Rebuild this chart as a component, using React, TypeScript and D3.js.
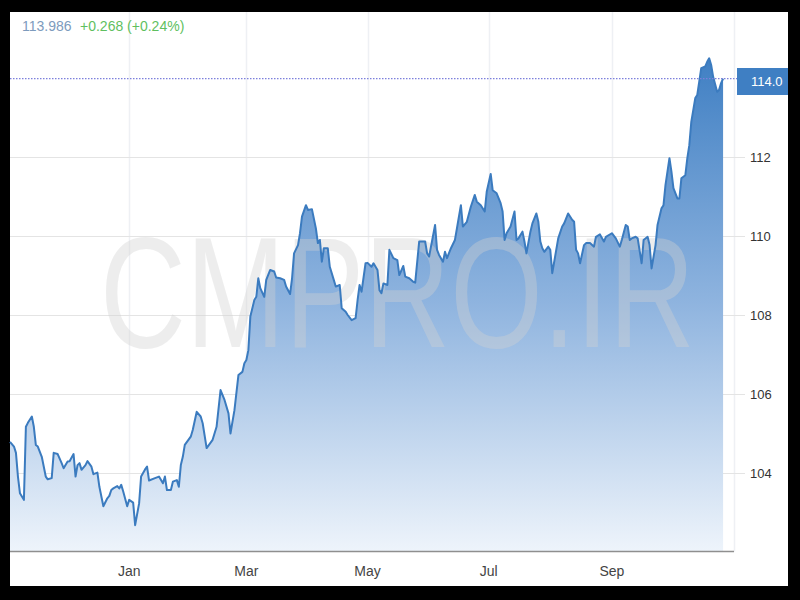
import React from 'react';
import * as d3 from 'd3';

// days counted from 1 Jan 2017 (negative = late 2016)
const days = [-60,-58,-57,-56,-55,-53,-52,-51,-49,-48,-47,-46,-44,-42,-41,-39,-38,-36,-34,-33,-31,-30,-28,-27,-26,-25,-24,-22,-21,-19,-18,-16,-15,-13,-11,-10,-9,-8,-6,-5,-4,-3,-1,0,2,3,5,6,8,9,10,13,15,17,18,19,21,22,24,25,26,27,28,31,32,34,36,37,39,42,44,46,48,50,51,53,55,57,58,59,60,61,63,64,65,66,68,69,71,73,74,76,78,79,81,82,83,85,86,87,89,90,92,94,95,96,97,98,100,101,103,104,106,107,109,110,112,114,115,116,117,119,120,122,123,125,126,127,128,130,131,133,135,136,138,139,141,143,144,146,149,150,151,154,155,156,158,159,160,162,164,165,167,168,170,172,174,175,177,179,180,182,183,185,187,188,189,190,192,194,195,196,198,199,200,202,203,205,206,207,208,209,211,212,213,216,218,219,221,223,224,225,226,227,229,230,232,234,235,237,239,240,243,245,247,248,250,251,252,253,255,256,258,259,261,262,263,265,266,268,269,270,272,273,274,276,277,278,280,281,282,283,285,286,287,288,290,291,292,293,294,296,297,298,299];

const values = [
  104.79,104.67,104.51,103.91,103.49,103.32,105.17,105.27,105.43,105.17,
  104.71,104.67,104.41,103.91,103.84,103.87,104.51,104.48,104.25,104.12,
  104.29,104.30,104.48,103.91,104.20,104.25,104.08,104.20,104.30,104.16,
  103.97,104.01,103.65,103.16,103.36,103.42,103.57,103.61,103.67,103.61,
  103.70,103.53,103.16,103.32,103.25,102.68,103.23,103.91,104.09,104.16,
  103.81,103.87,103.91,103.74,103.91,103.57,103.57,103.78,103.82,103.65,104.20,
  104.41,104.71,104.92,105.09,105.55,105.43,105.26,104.63,104.84,105.17,
  106.10,105.85,105.51,105.00,105.59,106.48,106.56,106.78,106.86,107.11,
  107.96,108.38,108.46,108.93,108.68,108.46,108.89,109.14,109.10,108.95,
  108.93,108.89,108.72,108.53,108.93,109.56,109.77,110.07,110.49,110.78,
  110.66,110.68,110.19,109.82,109.90,109.35,109.69,109.69,109.22,108.89,
  108.72,108.76,108.17,108.08,108.00,107.87,107.92,108.38,108.76,108.59,
  109.31,109.32,109.22,109.31,109.14,108.63,108.55,108.80,108.76,109.65,
  109.44,109.39,109.01,109.24,108.97,108.93,108.84,108.82,109.86,109.86,
  109.56,109.48,110.28,109.65,109.52,109.35,109.60,109.44,109.69,109.90,
  110.19,110.78,110.24,110.36,110.74,111.04,110.87,110.78,110.62,111.12,
  111.57,111.16,111.08,110.83,110.62,109.90,110.07,110.24,110.62,109.90,
  109.94,110.11,109.86,109.56,110.11,110.32,110.57,110.36,109.86,109.69,
  109.60,109.73,109.65,109.06,
  109.94,110.24,110.32,110.57,110.41,110.36,109.65,109.56,109.31,109.77,
  109.82,109.82,109.73,109.98,110.04,109.86,109.98,110.07,109.94,109.73,
  109.90,110.28,110.24,109.90,109.94,109.98,109.94,109.31,109.90,109.98,
  109.77,109.18,109.77,110.28,110.70,110.78,111.29,111.97,111.63,111.21,
  110.95,110.95,111.46,111.54,111.97,112.30,112.89,113.49,113.57,113.91,
  114.25,114.29,114.41,114.50,114.33,114.03,113.65,113.70,113.87,113.986
];

const monthTickDates = ['2017-01-01', '2017-03-01', '2017-05-01', '2017-07-01', '2017-09-01'];
const yTicks = [104, 106, 108, 110, 112];
const lastValue = 113.986;
const changeText = '+0.268 (+0.24%)';
const markerLabel = '114.0';
const watermark = 'CMPRO.IR';

const parseDay = (d: number) => new Date(2017, 0, 1 + d);
const parseIso = d3.timeParse('%Y-%m-%d');

export default function App() {
  const W = 800, H = 600;
  const left = 10, right = 735, axisY = 551.5;
  const x = d3.scaleTime()
    .domain([parseDay(-60), parseDay(305)])
    .range([left, right]);
  const y = d3.scaleLinear().domain([102, 114]).range([552, 78]);

  const pts = days.map((d, i) => ({ date: parseDay(d), v: values[i] }));
  const line = d3.line<{ date: Date; v: number }>()
    .x(p => x(p.date)).y(p => y(p.v)).curve(d3.curveLinear);
  const area = d3.area<{ date: Date; v: number }>()
    .x(p => x(p.date)).y0(axisY).y1(p => y(p.v)).curve(d3.curveLinear);
  const fmt = d3.timeFormat('%b');
  const font = "'Liberation Sans', Arial, Helvetica, sans-serif";
  const lastY = y(lastValue);

  return (
    <svg width={W} height={H} style={{ position: 'absolute', left: 0, top: 0 }} fontFamily={font}>
      <defs>
        <linearGradient id="fillGrad" gradientUnits="userSpaceOnUse" x1="0" y1="55" x2="0" y2="552">
          <stop offset="0" stopColor="#3f7fc3" />
          <stop offset="0.5" stopColor="#8fb4df" />
          <stop offset="1" stopColor="#eef4fb" />
        </linearGradient>
      </defs>
      <rect x={0} y={0} width={W} height={H} fill="#000" />
      <rect x={10} y={12} width={778} height={574} fill="#fff" />

      {/* vertical grid */}
      {monthTickDates.map(s => {
        const xx = Math.round(x(parseIso(s)!)) + 0.5;
        return <line key={s} x1={xx} x2={xx} y1={12} y2={axisY} stroke="#eef0f4" strokeWidth={1.5} />;
      })}
      <line x1={right - 0.5} x2={right - 0.5} y1={12} y2={axisY} stroke="#eef0f4" strokeWidth={1.5} />

      {/* horizontal grid */}
      {yTicks.map(t => (
        <line key={t} x1={left} x2={745} y1={Math.round(y(t)) + 0.5} y2={Math.round(y(t)) + 0.5} stroke="#e4e4e4" strokeWidth={1.2} />
      ))}

      <path d={area(pts) || ''} fill="url(#fillGrad)" />

      <text transform="translate(100,347) scale(0.753,1)" fontSize={158}
        fill="#d2d2d2" opacity={0.38}>{watermark}</text>

      <path d={line(pts) || ''} fill="none" stroke="#3b7bbf" strokeWidth={2} strokeLinejoin="round" />

      {/* current price dotted line */}
      <line x1={left} x2={737} y1={lastY} y2={lastY} stroke="#7d80dc" strokeWidth={1.2} strokeDasharray="1.5,1.5" />

      {/* x axis */}
      <line x1={left} x2={734} y1={axisY} y2={axisY} stroke="#8f8f8f" strokeWidth={1.6} />
      {monthTickDates.map(s => (
        <text key={s} x={x(parseIso(s)!)} y={576} fontSize={14} fill="#444" textAnchor="middle">{fmt(parseIso(s)!)}</text>
      ))}

      {/* y labels */}
      {yTicks.map(t => (
        <text key={t} x={750} y={y(t)} dy="0.35em" fontSize={13} fill="#333">{t}</text>
      ))}

      {/* price marker */}
      <rect x={737} y={68} width={51} height={27} fill="#3f7fc3" />
      <text x={751} y={81.5} dy="0.35em" fontSize={13} fill="#fff">{markerLabel}</text>

      {/* header */}
      <text x={22} y={31} fontSize={14} fill="#7d9bbd">
        {lastValue.toFixed(3)}
        <tspan x={80} fill="#5fbf5f">{changeText}</tspan>
      </text>
    </svg>
  );
}
